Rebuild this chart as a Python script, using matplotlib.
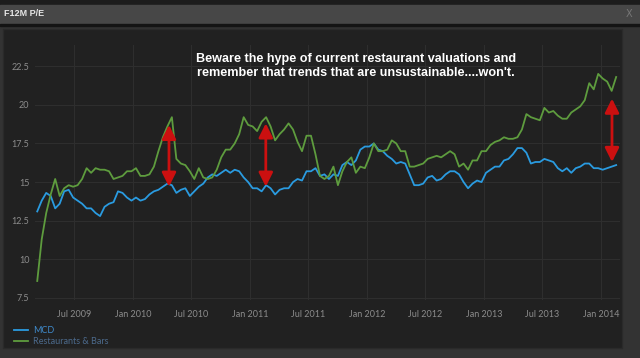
"""F12M P/E: MCD vs Restaurants & Bars, dark terminal style."""

import pandas as pd
import matplotlib.pyplot as plt
import matplotlib.dates as mdates
from matplotlib.patches import Rectangle

BG_OUT   = "#333333"
BAR      = "#474747"
PANEL    = "#212121"
GRID     = "#2e2e2e"
TICK     = "#8c8c8c"
BLUE     = "#2a9be0"
GREEN    = "#5e9c3e"
RED      = "#cc1010"
WHITE    = "#FFFFFF"

# ── data (biweekly samples) ─────────────────────────────────────────────────
dates = pd.date_range("2009-03-08", periods=130, freq="14D")

mcd = [
    13.1, 13.8, 14.3, 14.1, 13.3, 13.6, 14.4, 14.5, 14.0, 13.8,
    13.6, 13.3, 13.3, 13.0, 12.8, 13.4, 13.6, 13.7, 14.4, 14.3,
    14.0, 13.8, 14.0, 13.8, 13.9, 14.2, 14.4, 14.5, 14.7, 14.9,
    14.8, 14.3, 14.5, 14.6, 14.1, 14.4, 14.7, 14.9, 15.3, 15.5,
    15.4, 15.6, 15.8, 15.6, 15.8, 15.7, 15.3, 15.0, 14.6, 14.6,
    14.4, 14.8, 14.6, 14.2, 14.5, 14.6, 14.6, 15.0, 15.2, 15.1,
    15.7, 15.7, 15.9, 15.4, 15.5, 15.2, 15.5, 15.4, 16.1, 16.3,
    16.1, 16.4, 17.1, 17.3, 17.3, 17.5, 17.1, 17.0, 16.7, 16.5,
    16.2, 16.3, 16.2, 15.5, 14.8, 14.8, 14.9, 15.3, 15.4, 15.1,
    15.2, 15.5, 15.7, 15.7, 15.5, 15.0, 14.6, 14.9, 15.1, 15.0,
    15.6, 15.8, 16.0, 16.0, 16.4, 16.5, 16.8, 17.2, 17.2, 16.9,
    16.2, 16.3, 16.3, 16.5, 16.4, 16.3, 15.9, 15.7, 15.9, 15.6,
    15.9, 16.0, 16.2, 16.2, 15.9, 15.9, 15.8, 15.9, 16.0, 16.1,
]

restaurants = [
    8.6, 11.3, 13.0, 14.2, 15.2, 14.1, 14.6, 14.8, 14.7, 14.8,
    15.2, 15.9, 15.6, 15.9, 15.8, 15.8, 15.7, 15.2, 15.3, 15.4,
    15.7, 15.7, 15.9, 15.4, 15.4, 15.5, 16.0, 17.0, 17.9, 18.6,
    19.2, 16.5, 16.2, 16.1, 15.7, 15.2, 15.9, 15.3, 15.2, 15.3,
    15.8, 16.6, 17.1, 17.1, 17.5, 18.1, 19.2, 18.7, 18.6, 18.3,
    18.9, 19.2, 18.6, 17.7, 18.1, 18.4, 18.8, 18.4, 17.6, 17.0,
    18.0, 18.0, 16.8, 15.4, 15.2, 15.4, 16.0, 14.8, 15.7, 16.3,
    16.6, 15.6, 16.0, 15.9, 16.6, 17.5, 17.0, 17.0, 17.1, 17.7,
    17.5, 17.0, 17.0, 16.0, 16.0, 16.1, 16.2, 16.5, 16.6, 16.7,
    16.6, 16.8, 17.0, 16.8, 16.0, 16.2, 15.8, 16.4, 16.4, 17.0,
    17.0, 17.4, 17.6, 17.7, 17.9, 17.8, 17.8, 17.9, 18.4, 19.4,
    19.2, 19.1, 19.0, 19.8, 19.5, 19.6, 19.3, 19.1, 19.1, 19.5,
    19.7, 19.9, 20.3, 21.4, 21.0, 22.0, 21.7, 21.5, 20.9, 21.8,
]

# red gap arrows: date, low end, high end
arrow_dates = ["2010-04-23", "2011-02-19", "2014-02-03"]
arrow_low   = [14.7, 14.7, 16.3]
arrow_high  = [18.7, 18.8, 20.4]

yticks = [7.5, 10, 12.5, 15, 17.5, 20, 22.5]
ytick_labels = ["7.5", "10", "12.5", "15", "17.5", "20", "22.5"]
xticks = pd.date_range("2009-07-01", "2014-01-01", freq="6MS")

note = ("Beware the hype of current restaurant valuations and\n"
        "remember that trends that are unsustainable....won't.")

# ── figure chrome ───────────────────────────────────────────────────────────
W, H = 640, 358
fig = plt.figure(figsize=(W / 100, H / 100), dpi=100)
fig.patch.set_facecolor(BG_OUT)


def px_rect(x0, y0, x1, y1, **kw):
    fig.patches.append(Rectangle((x0 / W, 1 - y1 / H), (x1 - x0) / W,
                                 (y1 - y0) / H, transform=fig.transFigure,
                                 zorder=-5, **kw))


px_rect(0, 0, 640, 4, color="#1c1c1c")
px_rect(0, 5, 640, 24, color=BAR)
px_rect(0, 24, 640, 26, color="#141414")
px_rect(3, 29, 622, 348, facecolor=PANEL, edgecolor="#2a2a2a", lw=1)

fig.text(4 / W, 1 - 14 / H, "F12M P/E", color="#e6e6e6", fontsize=6.5,
         fontweight="bold", va="center", ha="left", family="Liberation Sans")
fig.text(629 / W, 1 - 14 / H, "X", color="#777777", fontsize=7,
         va="center", ha="center", family="DejaVu Sans")

# ── axes ────────────────────────────────────────────────────────────────────
ax = fig.add_axes([35 / W, 1 - 300 / H, 585 / W, 255 / H])
ax.set_zorder(2)
ax.set_facecolor(PANEL)
ax.plot(dates, mcd, color=BLUE, lw=1.3, label="MCD", zorder=3)
ax.plot(dates, restaurants, color=GREEN, lw=1.3, label="Restaurants & Bars", zorder=3)

for d, lo, hi in zip(arrow_dates, arrow_low, arrow_high):
    ax.annotate("", xy=(pd.Timestamp(d), hi), xytext=(pd.Timestamp(d), lo),
                arrowprops=dict(arrowstyle="<|-|>,head_length=0.7,head_width=0.35",
                                color=RED, lw=2, shrinkA=0, shrinkB=0,
                                mutation_scale=12),
                zorder=5)

ax.set_xlim(pd.Timestamp("2009-03-01"), pd.Timestamp("2014-02-28"))
ax.set_ylim(7.37, 23.87)
ax.set_yticks(yticks)
ax.set_yticklabels(ytick_labels)
ax.set_xticks(xticks)
ax.xaxis.set_major_formatter(mdates.DateFormatter("%b %Y"))
ax.tick_params(length=0, colors=TICK, labelsize=6.5, pad=4)
ax.tick_params(axis="x", pad=7)
for lab in ax.get_xticklabels() + ax.get_yticklabels():
    lab.set_family("Lato")
ax.grid(True, color=GRID, lw=0.8, zorder=0)
for s in ax.spines.values():
    s.set_visible(False)

fig.text(356 / W, 1 - 66 / H, note, color=WHITE, fontsize=9.1, fontweight="bold",
         ha="center", va="center", family="Liberation Sans", linespacing=1.3,
         zorder=6)

leg = ax.legend(loc="lower left", bbox_to_anchor=(14 / W, 1 - 346 / H),
                bbox_transform=fig.transFigure, frameon=False, fontsize=6.5,
                handlelength=1.6, handletextpad=0.5, labelspacing=0.25,
                borderaxespad=0, borderpad=0)
for txt, col in zip(leg.get_texts(), ["#3f8acb", "#4c6a8c"]):
    txt.set_color(col)
    txt.set_family("Lato")

plt.savefig("out.png", dpi=100, facecolor=BG_OUT)
